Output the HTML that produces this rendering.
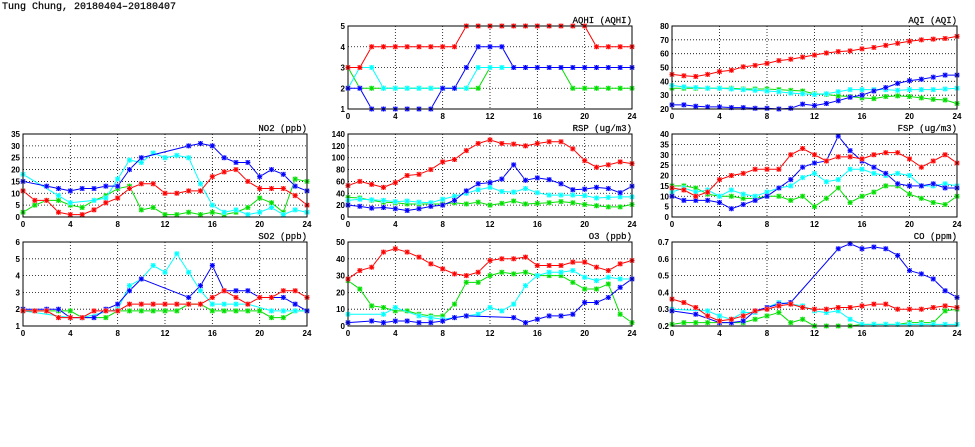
<!DOCTYPE html>
<html><head><meta charset="utf-8"><style>
body{margin:0;background:#fff;width:975px;height:447px;overflow:hidden}
svg{display:block}
text{font-family:"Liberation Sans",sans-serif;font-weight:bold;font-size:8px;fill:#000}
.ttl{font-family:"Liberation Mono",monospace;font-size:9px;font-weight:normal;stroke:#000;stroke-width:0.2}
</style></head><body>
<svg id="c" width="975" height="447">
<text x="2" y="9" class="ttl" style="font-size:10px">Tung Chung, 20180404–20180407</text>
</svg>
<script>
const hours=[0,1,2,3,4,5,6,7,8,9,10,11,12,13,14,15,16,17,18,19,20,21,22,23,24];
const xTicks=[0,4,8,12,16,20,24];
const N=null;
const aqhiRed=[3,3,4,4,4,4,4,4,4,4,5,5,5,5,5,5,5,5,5,5,5,4,4,4,4];
const aqhiBlue=[2,2,1,1,1,1,1,1,2,2,3,4,4,4,3,3,3,3,3,3,3,3,3,3,3];
const aqhiCyan=[2,3,3,2,2,2,2,2,2,2,2,3,3,3,3,3,3,3,3,3,3,3,3,3,3];
const aqhiGreen=[3,2,2,2,2,2,2,2,2,2,2,2,3,3,3,3,3,3,3,2,2,2,2,2,2];
const aqiRed=[45,44,43.5,45,47,48,50.5,51.5,53,55,56,57.5,59,60.5,61.5,62,63.5,64.5,66,67.5,69,70,70.5,71,72.5];
const aqiBlue=[23,23,22,21.5,21.5,21,21,20.5,20.5,20,20.5,23.5,22.5,24,26,28.5,30,33,35.5,38.5,40.5,41.5,43,44.5,44.5];
const aqiCyan=[37,36,35.5,35,35,34.5,34,33.5,33,32.5,31.5,31,30.5,31,32.5,34,34,34,34,33.5,34,34,34,34.5,35];
const aqiGreen=[35,35,35,35,35,35,34.5,34.5,34.5,34,33.5,33,31,30.5,29.5,29,28,27.5,29,29.5,29,28,27,26.5,24];
const no2Red=[11,7,7,2,1,1,3,6,8,12,14,14,10,10,11,11,17,19,20,15,12,12,12,9,5];
const no2Blue=[15,N,13,12,11,12,12,13,13,20,25,N,N,N,30,31,30,25,23,23,17,20,18,13,11];
const no2Cyan=[18,N,N,9,6,N,7,8,16,24,23,27,25,26,25,14,5,2,3,1,2,4,1,3,2];
const no2Green=[2,5,7,7,5,4,7,9,12,13,3,4,1,1,2,1,2,1,2,4,8,6,2,16,15];
const rspRed=[53,60,55,50,58,70,72,80,93,97,112,124,130,124,123,120,124,127,127,115,95,84,88,93,90];
const rspBlue=[20,18,15,16,14,11,14,18,20,28,44,56,58,64,88,62,66,63,56,46,47,50,48,41,52];
const rspCyan=[28,30,29,28,26,27,25,24,30,35,40,46,50,43,42,48,41,37,37,37,36,32,33,34,34];
const rspGreen=[33,32,28,25,24,22,22,22,22,24,22,25,20,23,27,22,23,24,26,24,21,19,17,17,21];
const fspRed=[14,13,10,12,18,20,21,23,23,23,30,33,30,27,29,29,28,30,31,31,28,24,27,30,26];
const fspBlue=[10,8,8,8,7,4,6,8,10,14,18,24,26,27,39,32,27,24,21,16,15,15,16,14,14];
const fspCyan=[12,14,12,13,10,13,11,10,12,14,15,19,21,17,18,23,23,21,20,21,20,15,15,16,15];
const fspGreen=[15,15,14,11,10,10,9,9,10,10,8,10,5,9,14,7,10,12,15,15,11,9,7,6,10];
const so2Red=[1.9,1.9,1.9,1.5,1.5,1.5,1.9,1.9,1.9,2.3,2.3,2.3,2.3,2.3,2.3,2.3,2.7,3.1,2.7,2.3,2.7,2.7,3.1,3.1,2.7];
const so2Blue=[2,N,2,2,1.5,1.5,1.5,2,2.3,3.1,3.8,N,N,N,2.7,3.4,4.6,3.1,3.1,3.1,2.7,2.7,2.7,2.3,1.9];
const so2Cyan=[1.9,N,N,N,1.5,1.5,N,N,2,3.4,3.8,4.6,4.2,5.3,4.2,3.1,2.3,2.3,2.3,2.3,N,1.9,1.9,1.9,1.9];
const so2Green=[1.9,1.9,1.9,1.9,1.9,1.5,1.5,1.5,1.9,1.9,1.9,1.9,1.9,1.9,2.3,2.3,1.9,1.9,1.9,1.9,1.9,1.5,1.5,1.9,1.9];
const o3Red=[28,33,35,44,46,44,41,37,34,31,30,32,39,40,40,41,36,36,36,38,38,35,33,37,39];
const o3Green=[27,22,12,11,9,9,7,6,6,13,26,26,30,32,31,32,30,30,30,26,22,22,25,7,2];
const o3Cyan=[7,N,N,7,11,N,6,5,4,5,6,7,11,9,13,24,30,32,32,33,29,27,29,28,28];
const o3Blue=[2,N,3,2,3,3,2,2,3,5,6,N,N,N,5,2,4,6,6,7,14,14,17,23,28];
const coRed=[0.36,0.34,0.31,0.26,0.23,0.24,0.26,0.29,0.30,0.32,0.33,0.31,0.30,0.30,0.31,0.31,0.32,0.33,0.33,0.30,0.30,0.30,0.31,0.32,0.31];
const coBlue=[0.29,N,0.27,N,0.22,0.22,0.23,0.29,0.31,0.33,0.34,N,N,N,0.66,0.69,0.66,0.67,0.66,0.62,0.53,0.51,0.48,0.41,0.37];
const coCyan=[0.30,N,N,0.29,0.26,0.24,0.28,0.28,0.31,0.34,0.33,0.32,0.29,0.28,0.29,0.24,0.21,0.21,0.21,0.21,0.21,0.21,0.21,0.21,0.21];
const coGreen=[0.21,0.22,0.22,0.22,0.22,0.22,0.22,0.24,0.26,0.28,0.22,0.24,0.20,0.20,0.20,0.20,0.21,0.21,0.21,0.21,0.22,0.22,0.22,0.29,0.30];
const aqhiTicks=[1,2,3,4,5];
const aqiTicks=[20,30,40,50,60,70,80];
const no2Ticks=[0,5,10,15,20,25,30,35];
const rspTicks=[0,20,40,60,80,100,120,140];
const fspTicks=[0,5,10,15,20,25,30,35,40];
const so2Ticks=[1,2,3,4,5,6];
const o3Ticks=[0,10,20,30,40,50];
const coTicks=['0.2','0.3','0.4','0.5','0.6','0.7'];

const NS='http://www.w3.org/2000/svg';
const svg=document.getElementById('c');
function mk(tag,at,parent){const e=document.createElementNS(NS,tag);for(const k in at)e.setAttribute(k,at[k]);(parent||svg).appendChild(e);return e;}
const cols=[[23,307],[348,632],[672,957]];
const rows=[[26,109],[134,217],[242,326]];
const panels=[
 {id:'aqhi',title:'AQHI (AQHI)',c:1,r:0,ticks:aqhiTicks,s:[aqhiGreen,aqhiCyan,aqhiBlue,aqhiRed]},
 {id:'aqi',title:'AQI (AQI)',c:2,r:0,ticks:aqiTicks,s:[aqiGreen,aqiCyan,aqiBlue,aqiRed]},
 {id:'no2',title:'NO2 (ppb)',c:0,r:1,ticks:no2Ticks,s:[no2Green,no2Cyan,no2Blue,no2Red]},
 {id:'rsp',title:'RSP (ug/m3)',c:1,r:1,ticks:rspTicks,s:[rspGreen,rspCyan,rspBlue,rspRed]},
 {id:'fsp',title:'FSP (ug/m3)',c:2,r:1,ticks:fspTicks,s:[fspGreen,fspCyan,fspBlue,fspRed]},
 {id:'so2',title:'SO2 (ppb)',c:0,r:2,ticks:so2Ticks,s:[so2Green,so2Cyan,so2Blue,so2Red]},
 {id:'o3',title:'O3 (ppb)',c:1,r:2,ticks:o3Ticks,s:[o3Green,o3Cyan,o3Blue,o3Red]},
 {id:'co',title:'CO (ppm)',c:2,r:2,ticks:coTicks,s:[coGreen,coCyan,coBlue,coRed]}
];
const colors=['#00e000','#00ffff','#0000ff','#ff0000'];
const halo=['#b0f0b0','#b0ffff','#b0b0ff','#ffb0b0'];
const names=['green','cyan','blue','red'];
panels.forEach(p=>{
 const [x0,x1]=cols[p.c],[y0,y1]=rows[p.r];
 const tk=p.ticks.map(Number);const ymin=tk[0],ymax=tk[tk.length-1];
 const X=h=>x0+(x1-x0)*h/24;
 const Y=v=>y1-(y1-y0)*(v-ymin)/(ymax-ymin);
 const g=mk('g',{});
 
 
 xTicks.forEach(t=>{
  if(t>0&&t<24){const l=mk('line',{x1:X(t),x2:X(t),y1:y0,y2:y1,stroke:'#000','stroke-width':0.8,'stroke-dasharray':'1,2'},g);}
  const tx=mk('text',{x:X(t),y:y1+10,'text-anchor':'middle'},g);tx.textContent=t;
  
 });
 p.ticks.forEach(t=>{
  const v=Number(t);
  if(v>ymin&&v<ymax){const l=mk('line',{x1:x0,x2:x1,y1:Y(v),y2:Y(v),stroke:'#000','stroke-width':0.8,'stroke-dasharray':'1,2'},g);}
  const tx=mk('text',{x:x0-3,y:Y(v)+3,'text-anchor':'end'},g);tx.textContent=t;
  
 });
 p.s.forEach((arr,si)=>{
  const pts=[];arr.forEach((v,i)=>{if(v!==null)pts.push([X(hours[i]),Y(v)]);});
  const sg=mk('g',{},g);
  
  
  mk('polyline',{points:pts.map(q=>q.join(',')).join(' '),fill:'none',stroke:colors[si],'stroke-width':1},sg);
  pts.forEach(([px,py])=>{
   mk('rect',{x:px-2.5,y:py-2.5,width:5,height:5,fill:halo[si]},sg);
   const d=`M${px-2.5},${py}H${px+2.5}M${px},${py-2.5}V${py+2.5}M${px-2},${py-2}L${px+2},${py+2}M${px-2},${py+2}L${px+2},${py-2}`;
   const m=mk('path',{d:d,stroke:colors[si],'stroke-width':1},sg);
   
  });
 });
 const b=mk('rect',{x:x0,y:y0,width:x1-x0,height:y1-y0,fill:'none',stroke:'#000','stroke-width':1},g);
 
 const tt=mk('text',{x:x1,y:y0-3,'text-anchor':'end','class':'ttl'},g);tt.textContent=p.title;
 
});
</script>
</body></html>
